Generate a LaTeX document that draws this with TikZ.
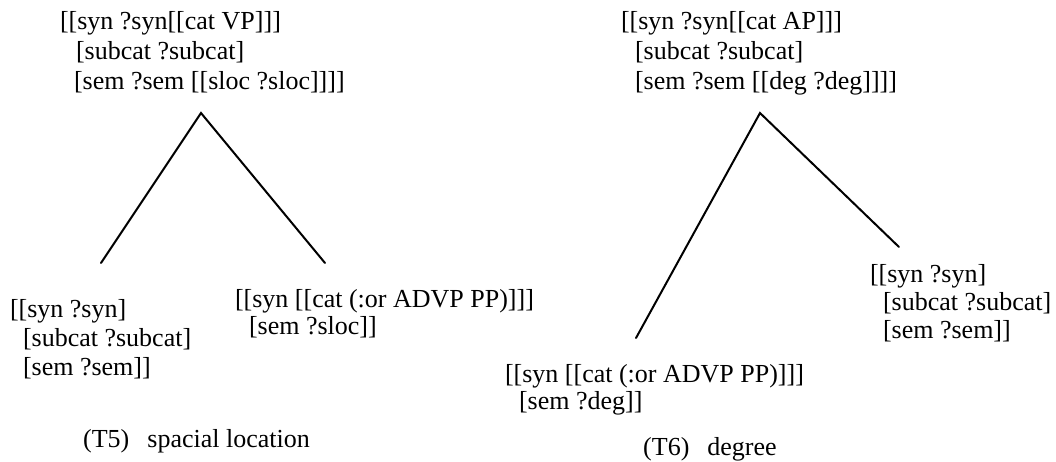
\documentclass[tikz,border=0pt]{standalone}
\usepackage{fontspec}
\setmainfont{Liberation Serif}
\newcommand{\fstack}[1]{\begin{tabular}[t]{@{}l@{}}#1\end{tabular}}
\newcommand{\ind}[1]{\hspace*{#1pt}}
\begin{document}
\begin{tikzpicture}[x=1pt,y=-1pt,
  fs/.style={inner sep=0pt, outer sep=0pt, anchor=base west,
             font=\fontsize{26}{#1}\selectfont},
  fs/.default=29,
  caption/.style={inner sep=0pt, anchor=base west, font=\fontsize{26}{29}\selectfont},
  branch/.style={line width=2pt, line cap=round, line join=miter}]
\useasboundingbox (0,0) rectangle (1056,461);

% ---- (T5) spacial location ----
\node[fs=30] (t5mother) at (60,29) {\fstack{[[syn ?syn[[cat VP]]]\\
  \ind{16}[subcat ?subcat]\\
  \ind{14}[sem ?sem [[sloc ?sloc]]]]}};
\node[fs=29] (t5head) at (10,317) {\fstack{[[syn ?syn]\\
  \ind{13}[subcat ?subcat]\\
  \ind{13}[sem ?sem]]}};
\node[fs=27] (t5mod) at (235,307) {\fstack{[[syn [[cat (:or ADVP PP)]]]\\
  \ind{14}[sem ?sloc]]}};
\node[caption] (t5cap) at (83,447) {(T5)\hspace{18pt}spacial location};

\coordinate (t5top) at (201,113);
\coordinate (t5l) at (101,263);
\coordinate (t5r) at (325,263);
\draw[branch] (t5l) -- (t5top) -- (t5r);

% ---- (T6) degree ----
\node[fs=30] (t6mother) at (621,29) {\fstack{[[syn ?syn[[cat AP]]]\\
  \ind{14}[subcat ?subcat]\\
  \ind{14}[sem ?sem [[deg ?deg]]]]}};
\node[fs=27] (t6mod) at (505,382) {\fstack{[[syn [[cat (:or ADVP PP)]]]\\
  \ind{14}[sem ?deg]]}};
\node[fs=28] (t6head) at (870,282) {\fstack{[[syn ?syn]\\
  \ind{13}[subcat ?subcat]\\
  \ind{13}[sem ?sem]]}};
\node[caption] (t6cap) at (643,455) {(T6)\hspace{18pt}degree};

\coordinate (t6top) at (760,113);
\coordinate (t6l) at (636,338);
\coordinate (t6r) at (899,247);
\draw[branch] (t6l) -- (t6top) -- (t6r);
\end{tikzpicture}
\end{document}
